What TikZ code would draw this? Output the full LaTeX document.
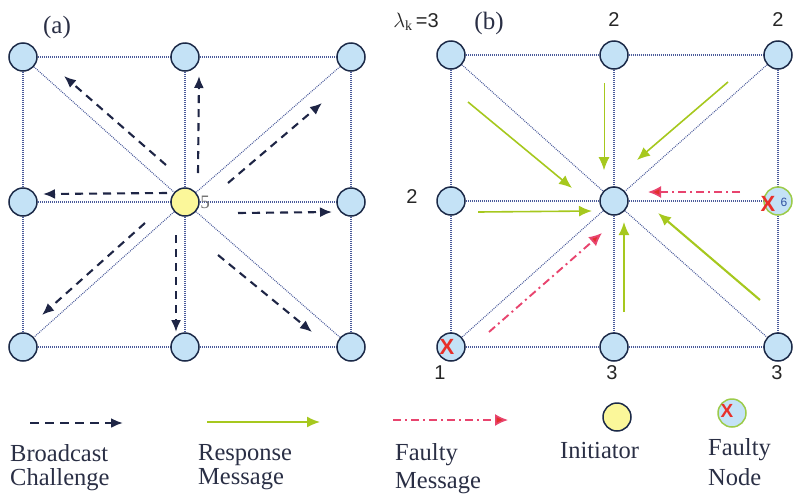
\documentclass[tikz,border=0pt]{standalone}
\usepackage{fontspec}
\setmainfont{Liberation Serif}
\newfontfamily\sansf{Liberation Sans}
\usetikzlibrary{arrows.meta,backgrounds}
\definecolor{nodefill}{HTML}{C4E2F6}
\definecolor{nodeline}{HTML}{1C2A48}
\definecolor{gridc}{HTML}{4A5A9A}
\definecolor{bcast}{HTML}{1E2545}
\definecolor{resp}{HTML}{A6C81E}
\definecolor{faultc}{HTML}{E8446E}
\definecolor{faulthead}{HTML}{E2302C}
\definecolor{initc}{HTML}{FBF79A}
\definecolor{greenring}{HTML}{9CCB4A}
\definecolor{xred}{HTML}{E8302A}
\definecolor{sixblue}{HTML}{3050A0}
\definecolor{txt}{HTML}{2A2F45}
\begin{document}
\begin{tikzpicture}[x=1pt,y=-1pt,
  gnode/.style={circle,draw=nodeline,fill=nodefill,line width=1.5pt,minimum size=28pt,inner sep=0pt},
  initnode/.style={gnode,fill=initc},
  faultnode/.style={gnode,draw=greenring},
  gridline/.style={draw=gridc,line width=1.1pt,dash pattern=on 0.9pt off 1.1pt},
  bcastarrow/.style={draw=bcast,line width=2.1pt,dash pattern=on 8pt off 6pt,-{Latex[length=12pt,width=10pt]}},
  resparrow/.style={draw=resp,line width=1.6pt,-{Latex[length=13pt,width=11pt]}},
  faultarrow/.style={draw=faultc,line width=1.6pt,dash pattern=on 8pt off 4pt on 2pt off 4pt,-{Latex[length=13pt,width=12pt,fill=faulthead]}},
  lbl/.style={inner sep=0pt,anchor=north west,align=left,text=txt},
  numlbl/.style={font=\sansf\fontsize{20}{22}\selectfont,inner sep=0pt,text=black!85},
  xmark/.style={font=\sansf\bfseries\fontsize{22}{22}\selectfont,text=xred,inner sep=0pt},
]
\useasboundingbox (0,0) rectangle (797,496);

% ---------- panel (a) ----------
\node[gnode] (a11) at (23,57) {};
\node[gnode] (a12) at (185,57) {};
\node[gnode] (a13) at (351,57) {};
\node[gnode] (a21) at (23,202) {};
\node[initnode] (a22) at (185,202) {};
\node[gnode] (a23) at (351,202) {};
\node[gnode] (a31) at (23,347) {};
\node[gnode] (a32) at (185,347) {};
\node[gnode] (a33) at (351,347) {};

% ---------- panel (b) ----------
\node[gnode] (b11) at (451,55) {};
\node[gnode] (b12) at (614,55) {};
\node[gnode] (b13) at (778,55) {};
\node[gnode] (b21) at (451,201) {};
\node[gnode] (b22) at (614,201) {};
\node[faultnode] (b23) at (778,201) {};
\node[gnode] (b31) at (451,347) {};
\node[gnode] (b32) at (614,347) {};
\node[gnode] (b33) at (778,347) {};

\begin{pgfonlayer}{background}
\foreach \p in {a,b}{
  \draw[gridline] (\p11) -- (\p12) -- (\p13);
  \draw[gridline] (\p21) -- (\p22) -- (\p23);
  \draw[gridline] (\p31) -- (\p32) -- (\p33);
  \draw[gridline] (\p11) -- (\p21) -- (\p31);
  \draw[gridline] (\p12) -- (\p22) -- (\p32);
  \draw[gridline] (\p13) -- (\p23) -- (\p33);
  \draw[gridline] (\p11) -- (\p22) -- (\p33);
  \draw[gridline] (\p13) -- (\p22) -- (\p31);
}
\end{pgfonlayer}

% labels
\node[font=\fontsize{25}{27}\selectfont,inner sep=0pt,text=txt] (la) at (57,27) {(a)};
\node[font=\fontsize{25}{27}\selectfont,inner sep=0pt,text=txt] (lb) at (489,23) {(b)};
\node[inner sep=0pt,text=black!85,font=\fontsize{20}{22}\selectfont] (lam) at (416,22) {$\lambda_{\mathrm{k}}$\,{\sansf =3}};
\node[font=\fontsize{19}{20}\selectfont,text=black!55,inner sep=0pt] (l5) at (205,202) {5};
\node[numlbl] (n1) at (614,20) {2};
\node[numlbl] (n2) at (778,20) {2};
\node[numlbl] (n3) at (412,197) {2};
\node[numlbl] (n4) at (440,373) {1};
\node[numlbl] (n5) at (612,373) {3};
\node[numlbl] (n6) at (777,373) {3};

\node[xmark] (x1) at (768,204) {X};
\node[font=\sansf\fontsize{12}{12}\selectfont,text=sixblue,inner sep=0pt] (six) at (784,202) {6};
\node[xmark] (x2) at (447,347) {X};

% broadcast arrows (a)
\coordinate (s1) at (166,165); \coordinate (e1) at (64,76);
\coordinate (s2) at (198,173); \coordinate (e2) at (199,76);
\coordinate (s3) at (228,183); \coordinate (e3) at (322,103);
\coordinate (s4) at (167,193); \coordinate (e4) at (43,194);
\coordinate (s5) at (238,213); \coordinate (e5) at (332,212);
\coordinate (s6) at (145,223); \coordinate (e6) at (42,315);
\coordinate (s7) at (176,235); \coordinate (e7) at (176,332);
\coordinate (s8) at (218,255); \coordinate (e8) at (312,332);
\foreach \i in {1,...,8}{\draw[bcastarrow] (s\i) -- (e\i);}

% response arrows (b)
\coordinate (r1s) at (468,102); \coordinate (r1e) at (572,188);
\coordinate (r2s) at (604,83);  \coordinate (r2e) at (604,170);
\coordinate (r3s) at (728,82);  \coordinate (r3e) at (637,160);
\coordinate (r4s) at (478,212); \coordinate (r4e) at (592,211);
\coordinate (r5s) at (760,300); \coordinate (r5e) at (658,213);
\coordinate (r6s) at (624,312); \coordinate (r6e) at (624,222);
\draw[resparrow] (r1s) -- (r1e);
\draw[resparrow,line width=0.8pt] (r2s) -- (r2e);
\draw[resparrow] (r3s) -- (r3e);
\draw[resparrow] (r4s) -- (r4e);
\draw[resparrow,line width=2.1pt] (r5s) -- (r5e);
\draw[resparrow] (r6s) -- (r6e);

% faulty arrows (b)
\coordinate (f1s) at (740,192); \coordinate (f1e) at (648,192);
\coordinate (f2s) at (489,332); \coordinate (f2e) at (602,233);
\draw[faultarrow] (f1s) -- (f1e);
\draw[faultarrow,line width=1.9pt] (f2s) -- (f2e);

% ---------- legend ----------
\coordinate (lg1s) at (30,423);  \coordinate (lg1e) at (123,423);
\coordinate (lg2s) at (207,422); \coordinate (lg2e) at (320,422);
\coordinate (lg3s) at (393,420); \coordinate (lg3e) at (508,420);
\draw[bcastarrow,line width=2.3pt,dash pattern=on 9pt off 6pt] (lg1s) -- (lg1e);
\draw[resparrow] (lg2s) -- (lg2e);
\draw[faultarrow] (lg3s) -- (lg3e);
\node[initnode] (lgi) at (617,417) {};
\node[faultnode] (lgf) at (732,413) {};
\node[xmark,font=\sansf\bfseries\fontsize{19}{19}\selectfont] (lgx) at (727,411) {X};

\node[lbl,font=\fontsize{24.5}{24}\selectfont] (t1) at (10,444.3) {Broadcast\\Challenge};
\node[lbl,font=\fontsize{24.5}{24}\selectfont] (t3) at (198,444.3) {Response\\Message};
\node[lbl,font=\fontsize{24.5}{28}\selectfont] (t5) at (395,443.3) {Faulty\\Message};
\node[lbl,font=\fontsize{24.5}{24}\selectfont] (t7) at (560,441.8) {Initiator};
\node[lbl,font=\fontsize{24.5}{30}\selectfont] (t8) at (708,438.3) {Faulty\\Node};
\end{tikzpicture}
\end{document}
